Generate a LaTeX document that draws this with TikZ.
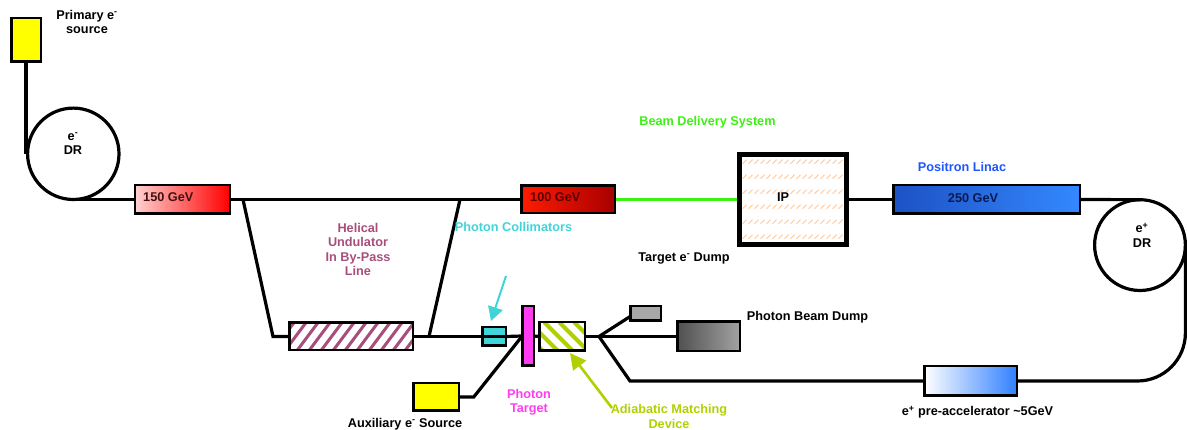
\documentclass[tikz,border=0pt]{standalone}
\usepackage{fontspec}
\setmainfont{Liberation Sans}
\usetikzlibrary{calc,arrows.meta}
\definecolor{srcY}{HTML}{FFFF00}
\definecolor{mauve}{HTML}{A84E7C}
\definecolor{cyanc}{HTML}{40D4D8}
\definecolor{magc}{HTML}{FF3CF0}
\definecolor{limec}{HTML}{B2D000}
\definecolor{bdsg}{HTML}{3CF014}
\definecolor{linacb}{HTML}{1E55FF}
\definecolor{peach}{HTML}{FFC89A}
\pgfdeclarelayer{bg}
\pgfsetlayers{bg,main}
\begin{document}
\begin{tikzpicture}[x=1pt,y=-1pt,
  beam/.style={line width=3.2pt},
  box/.style={draw, line width=2.5pt, inner sep=0pt, outer sep=0pt},
  ring/.style={circle, draw, line width=3.2pt, inner sep=0pt, outer sep=0pt},
  txt/.style={font=\bfseries\fontsize{12.7}{14.5}\selectfont, inner sep=0pt, align=center},
  undhatch/.style={path picture={\foreach \i in {-40,-28,...,140}
      \draw[mauve, line width=3pt] ($(path picture bounding box.south west)+(\i,0)$) -- ++(30,-40);}},
  amdhatch/.style={path picture={\foreach \i in {-40,-25,...,60}
      \draw[limec, line width=4pt] ($(path picture bounding box.north west)+(\i,0)$) -- ++(40,40);}},
  iphatch/.style={path picture={\foreach \r in {0,...,5}\foreach \c in {0,...,17}
      \draw[peach, line width=0.9pt] ($(path picture bounding box.north west)+(3+6*\c,9.2+15*\r)$) -- ++(4,-4);}},
]
\useasboundingbox (0,0) rectangle (1187,430);

% ---- boxes and rings ----
\node[box, fill=srcY, minimum width=29.5pt, minimum height=43.5pt] (psrc) at (26,40) {};
\node[ring, minimum size=91.4pt] (edr) at (73.3,153.8) {};
\node[box, left color=red!18, right color=red, minimum width=95pt, minimum height=28.5pt] (b150) at (182.3,199.5) {};
\node[box, left color={rgb,255:red,255;green,28;blue,0}, right color={rgb,255:red,168;green,0;blue,0}, minimum width=93.5pt, minimum height=27.5pt] (b100) at (568,199.5) {};
\node[draw, line width=5pt, inner sep=0pt, outer sep=0pt, fill=white, iphatch, minimum width=107pt, minimum height=90pt] (ip) at (793,199.5) {};
\node[box, left color={rgb,255:red,28;green,82;blue,196}, right color={rgb,255:red,52;green,136;blue,255}, minimum width=186.5pt, minimum height=28.5pt] (b250) at (986.5,199.5) {};
\node[ring, minimum size=90.8pt] (epdr) at (1140,245.1) {};
\node[box, left color=white, right color={rgb,255:red,48;green,128;blue,255}, minimum width=92.5pt, minimum height=29.5pt] (pre) at (970.5,381) {};
\node[box, fill=white, undhatch, minimum width=123.5pt, minimum height=27.5pt] (und) at (351,336.5) {};
\node[box, fill=cyanc, minimum width=23.5pt, minimum height=18.5pt] (col) at (494,336.5) {};
\node[box, fill=magc, minimum width=11.5pt, minimum height=59.5pt] (tgt) at (528,336) {};
\node[box, fill=white, amdhatch, minimum width=45.5pt, minimum height=28.5pt] (amd) at (562,336.5) {};
\node[box, fill=srcY, minimum width=45.5pt, minimum height=27.5pt] (aux) at (436,397) {};
\node[box, fill={rgb,255:red,168;green,168;blue,168}, minimum width=30.5pt, minimum height=14.5pt] (gbox) at (645.5,313.5) {};
\node[box, left color={rgb,255:red,80;green,80;blue,80}, right color={rgb,255:red,162;green,162;blue,162}, minimum width=62.5pt, minimum height=29.5pt] (dump) at (708.5,336.5) {};

% ---- coordinates ----
\coordinate (bpA) at (243,199.5);
\coordinate (bpB) at (273,336.5);
\coordinate (bpC) at (429,336.5);
\coordinate (bpD) at (460,199.5);
\coordinate (br) at (599,336.5);
\coordinate (brL) at (630,381);
\coordinate (cyS) at (506,276);
\coordinate (cyT) at (491,321);
\coordinate (lmS) at (612,408);
\coordinate (lmT) at (570,353);

% ---- beam lines ----
\begin{pgfonlayer}{bg}
\draw[beam] (psrc.south) -- (psrc.south |- edr.west);
\draw[beam] (edr.south) -- (b150.west);
\draw[beam] (b150.east) -- (b100.west);
\draw[line width=3pt, bdsg] (b100.east) -- (ip.west);
\draw[beam] (ip.east) -- (b250.west);
\draw[beam] (b250.east) -- (epdr.north);
\draw[beam, rounded corners=48pt] (epdr.east) -- (epdr.east |- pre.east) -- (pre.east);
\draw[beam] (pre.west) -- (brL) -- (br);
\draw[beam] (br) -- (dump.west);
\draw[beam] (br) -- ($(gbox.south west)!0.3!(gbox.north west)$);
\draw[beam] (bpA) -- (bpB) -- (und.west);
\draw[beam] (und.east) -- (col.west);
\draw[beam] (col.east) -- (tgt.west);
\draw[beam] (bpC) -- (bpD);
\draw[beam] (tgt.east) -- (amd.west);
\draw[beam] (amd.east) -- (br);
\draw[beam] (aux.east) -- ++(15,0) -- (tgt.west);
\end{pgfonlayer}
\draw[beam] (col.west) -- (col.east);

% ---- arrows ----
\draw[cyanc, line width=2pt, -{Triangle[width=15pt,length=14pt]}] (cyS) -- (cyT);
\draw[limec, line width=2.6pt, -{Triangle[width=16pt,length=16pt]}] (lmS) -- (lmT);

% ---- labels ----
\node[txt] (lpsrc) at (87,22) {Primary e\textsuperscript{-}\\source};
\node[txt] (ledr) at (73,144) {e\textsuperscript{-}\\DR};
\node[txt, text={rgb,255:red,64;green,16;blue,16}, anchor=west] (l150) at (143,197) {150 GeV};
\node[txt, text={rgb,255:red,90;green,0;blue,0}, anchor=west] (l100) at (530,197) {100 GeV};
\node[txt] (lip) at (783,197) {IP};
\node[txt, text={rgb,255:red,10;green,26;blue,80}] (l250) at (973,198) {250 GeV};
\node[txt] (lepdr) at (1142,235) {e\textsuperscript{+}\\DR};
\node[txt, text=bdsg] (lbds) at (707.5,122) {Beam Delivery System};
\node[txt, text=linacb] (llinac) at (962,167) {Positron Linac};
\node[txt] (ltdump) at (684,258) {Target e\textsuperscript{-} Dump};
\node[txt, text=mauve] (lund) at (358,249.5) {Helical\\Undulator\\In By-Pass\\Line};
\node[txt, text=cyanc] (lcol) at (513.5,227) {Photon Collimators};
\node[txt] (lpbd) at (807.5,317) {Photon Beam Dump};
\node[txt] (lpre) at (977.5,412) {e\textsuperscript{+} pre-accelerator \textasciitilde5GeV};
\node[txt] (laux) at (405,424) {Auxiliary e\textsuperscript{-} Source};
\node[txt, text=magc] (ltgt) at (529,402) {Photon\\Target};
\node[txt, text=limec] (lamd) at (669,416.5) {Adiabatic Matching\\Device};
\end{tikzpicture}
\end{document}
